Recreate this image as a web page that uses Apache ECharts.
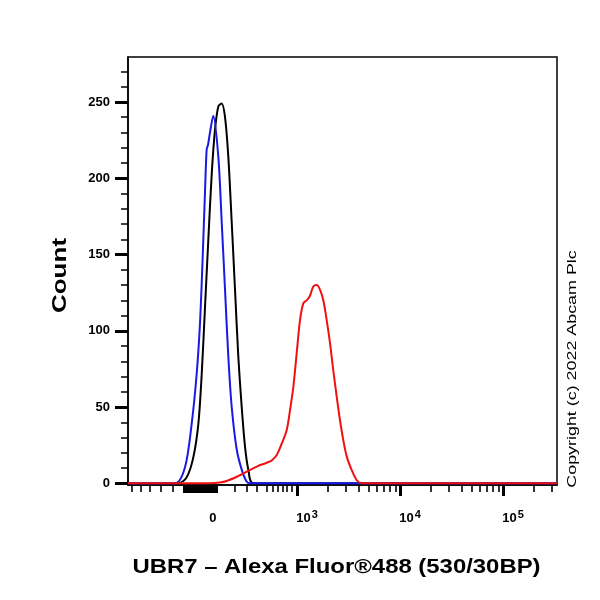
<!DOCTYPE html>
<html>
<head>
<meta charset="utf-8">
<script src="https://cdn.jsdelivr.net/npm/echarts@6/dist/echarts.min.js"></script>
<style>
html,body{margin:0;padding:0;background:#fff;}
#chart{width:600px;height:600px;}
</style>
</head>
<body>
<div id="chart"></div>
<script>
// x values are display positions on the biexponential axis, in decades (10^3 -> 3, 10^4 -> 4)
var xRange = [1.359, 5.524];
var yRange = [-1.1, 279.5];

var blueX = [1.359, 1.816, 1.913, 1.978, 2.026, 2.058, 2.084, 2.107, 2.123, 2.136, 2.155, 2.187, 2.236, 2.269, 2.301, 2.333, 2.366, 2.415, 2.463, 2.512, 2.544, 5.524];
var blueY = [0, 0, 10.7, 39.5, 72, 105, 148, 192, 219, 222, 230, 241, 214, 171, 127, 83, 50, 22, 9, 1, 0, 0];

var blackX = [1.359, 1.845, 1.929, 1.993, 2.042, 2.075, 2.107, 2.139, 2.172, 2.204, 2.236, 2.269, 2.301, 2.333, 2.366, 2.398, 2.430, 2.463, 2.495, 2.527, 2.576, 5.524];
var blackY = [0, 0, 4, 17, 39, 72, 116, 160, 203, 232, 247, 249, 240, 214, 171, 127, 83, 50, 24, 9, 0, 0];

var redX = [1.359, 2.155, 2.252, 2.317, 2.415, 2.512, 2.609, 2.706, 2.754, 2.803, 2.851, 2.900, 2.932, 2.964, 2.997, 3.029, 3.061, 3.094, 3.126, 3.158, 3.191, 3.223, 3.255, 3.288, 3.320, 3.352, 3.385, 3.417, 3.450, 3.483, 3.531, 3.580, 3.628, 5.524];
var redY = [0, 0, 0.5, 1.5, 4.3, 7.6, 11, 13.5, 15, 18.6, 26, 35, 48, 63, 85.5, 107, 118, 120, 123, 129, 130, 127, 120, 107, 92, 74, 57, 41.5, 28, 17.5, 8.7, 2, 0, 0];

// axis ticks and labels
var xLabelValues = [2.184, 3, 4, 5];
var xLabelTexts = ['0', '3', '4', '5'];
var xMajorTicks = [3, 4, 5];
var xNegLinTicks = [1.398, 1.485, 1.573, 1.680, 1.796];
var xZeroBlock = [1.905, 2.230];
var xPosLinTicks = [2.398, 2.515, 2.612, 2.709, 2.767, 2.816, 2.864, 2.903, 2.951];
var decadeMultipliers = [2, 3, 4, 5, 6, 7, 8, 9];
var yMajorTicks = [0, 50, 100, 150, 200, 250];
var yMinorTicks = [0, 10, 20, 30, 40, 50, 60, 70, 80, 90, 100, 110, 120, 130, 140, 150, 160, 170, 180, 190, 200, 210, 220, 230, 240, 250, 260, 270, 280];

var xTitle = 'UBR7 \u2013 Alexa Fluor\u00ae488 (530/30BP)';
var yTitle = 'Count';
var copyright = 'Copyright (c) 2022 Abcam Plc';

function pairs(xs, ys) { return xs.map(function (x, i) { return [x, ys[i]]; }); }

var xMinorTicks = [].concat(xNegLinTicks, xPosLinTicks);
var xBlockTicks = [];
for (var v = xZeroBlock[0]; v <= xZeroBlock[1] + 1e-6; v += 0.008) xBlockTicks.push(v);
[3, 4, 5].forEach(function (d) {
  decadeMultipliers.forEach(function (m) {
    var t = d + Math.log10(m);
    if (t <= xRange[1]) xMinorTicks.push(t);
  });
});

var FONT = 'Liberation Sans, Arial, Helvetica, sans-serif';
var gridRect = { left: 128, right: 43, top: 57, bottom: 115, containLabel: false, outerBoundsMode: 'none' };

var chart = echarts.init(document.getElementById('chart'), null, { renderer: 'canvas' });
chart.setOption({
  animation: false,
  backgroundColor: '#fff',
  grid: [
    Object.assign({ show: true, borderColor: '#000', borderWidth: 1.5, backgroundColor: 'transparent' }, gridRect),
    Object.assign({ show: false }, gridRect),
    Object.assign({ show: false }, gridRect)
  ],
  xAxis: [
    {
      type: 'value', gridIndex: 0, min: xRange[0], max: xRange[1],
      axisLine: { show: true, onZero: false, lineStyle: { color: '#000', width: 1.5 } },
      axisTick: { show: true, customValues: xMinorTicks, length: 7, lineStyle: { color: '#000', width: 1.6 } },
      axisLabel: { show: false },
      splitLine: { show: false }
    },
    {
      type: 'value', gridIndex: 1, min: xRange[0], max: xRange[1],
      axisLine: { show: false, onZero: false },
      axisTick: { show: true, customValues: xMajorTicks, length: 11, lineStyle: { color: '#000', width: 3 } },
      axisLabel: {
        show: true, customValues: xLabelValues, margin: 24,
        formatter: function (val) {
          var i = xLabelValues.indexOf(val);
          if (i === 0) return '{z|' + xLabelTexts[0] + '}';
          return '{b|10}{s|' + xLabelTexts[i] + '}';
        },
        rich: {
          z: { fontFamily: FONT, fontWeight: 'bold', fontSize: 13, color: '#000', lineHeight: 16, verticalAlign: 'bottom' },
          b: { fontFamily: FONT, fontWeight: 'bold', fontSize: 13, color: '#000', lineHeight: 16, verticalAlign: 'bottom', padding: [0, 0, 0, 20] },
          s: { fontFamily: FONT, fontWeight: 'bold', fontSize: 11, color: '#000', lineHeight: 16, verticalAlign: 'top', padding: [0, 0, 0, 1] }
        }
      },
      splitLine: { show: false }
    },
    {
      type: 'value', gridIndex: 2, min: xRange[0], max: xRange[1],
      axisLine: { show: false, onZero: false },
      axisTick: { show: true, customValues: xBlockTicks, length: 8, lineStyle: { color: '#000', width: 2 } },
      axisLabel: { show: false },
      splitLine: { show: false }
    }
  ],
  yAxis: [
    {
      type: 'value', gridIndex: 0, min: yRange[0], max: yRange[1],
      axisLine: { show: true, onZero: false, lineStyle: { color: '#000', width: 1.5 } },
      axisTick: { show: true, customValues: yMinorTicks, length: 7, lineStyle: { color: '#000', width: 1.5 } },
      axisLabel: { show: false },
      splitLine: { show: false }
    },
    {
      type: 'value', gridIndex: 1, min: yRange[0], max: yRange[1],
      axisLine: { show: false, onZero: false },
      axisTick: { show: true, customValues: yMajorTicks, length: 13, lineStyle: { color: '#000', width: 3 } },
      axisLabel: { show: true, customValues: yMajorTicks, margin: 18, fontFamily: FONT, fontWeight: 'bold', fontSize: 13, color: '#000' },
      splitLine: { show: false }
    },
    {
      type: 'value', gridIndex: 2, min: yRange[0], max: yRange[1],
      show: false
    }
  ],
  series: [
    { type: 'line', name: 'black', xAxisIndex: 0, yAxisIndex: 0, data: pairs(blackX, blackY), showSymbol: false, smooth: 0.3, lineStyle: { color: '#000000', width: 2 }, z: 3 },
    { type: 'line', name: 'blue', xAxisIndex: 0, yAxisIndex: 0, data: pairs(blueX, blueY), showSymbol: false, smooth: 0.3, lineStyle: { color: '#1a1ae6', width: 2 }, z: 4 },
    { type: 'line', name: 'red', xAxisIndex: 0, yAxisIndex: 0, data: pairs(redX, redY), showSymbol: false, smooth: 0.3, lineStyle: { color: '#ee1111', width: 2 }, z: 5 }
  ],
  graphic: [
    { type: 'text', x: 60, y: 275.5, rotation: Math.PI / 2, scaleX: 1.3,
      style: { text: yTitle, fontFamily: FONT, fontWeight: 'bold', fontSize: 20, fill: '#000', align: 'center', verticalAlign: 'middle' } },
    { type: 'text', x: 336.5, y: 567, scaleX: 1.195,
      style: { text: xTitle, fontFamily: FONT, fontWeight: 'bold', fontSize: 20, fill: '#000', align: 'center', verticalAlign: 'middle' } },
    { type: 'text', x: 573, y: 369, rotation: Math.PI / 2, scaleX: 1.43,
      style: { text: copyright, fontFamily: FONT, fontSize: 12.5, fill: '#000', align: 'center', verticalAlign: 'middle' } }
  ]
});
</script>
</body>
</html>
